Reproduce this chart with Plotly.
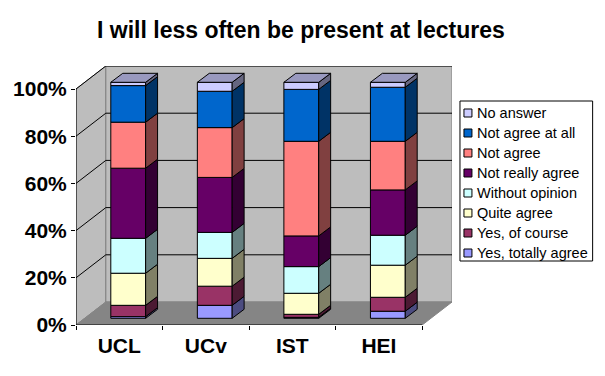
import plotly.graph_objects as go

categories = ["UCL", "UCv", "IST", "HEI"]
yes_totally = [0.7, 5.5, 0.4, 3.0]
yes_course = [4.8, 8.1, 1.3, 5.9]
quite_agree = [13.6, 11.8, 8.9, 13.6]
without_opinion = [14.8, 11.0, 11.3, 12.7]
not_really = [29.7, 23.3, 13.0, 19.2]
not_agree = [19.5, 21.1, 40.1, 20.6]
not_at_all = [15.5, 15.4, 22.0, 22.9]
no_answer = [1.4, 3.8, 3.0, 2.1]
y_ticks = [0, 20, 40, 60, 80, 100]

series = [
    ("Yes, totally agree", yes_totally, (0x99, 0x99, 0xFF)),
    ("Yes, of course", yes_course, (0x99, 0x33, 0x66)),
    ("Quite agree", quite_agree, (0xFF, 0xFF, 0xCC)),
    ("Without opinion", without_opinion, (0xCC, 0xFF, 0xFF)),
    ("Not really agree", not_really, (0x66, 0x00, 0x66)),
    ("Not agree", not_agree, (0xFF, 0x80, 0x80)),
    ("Not agree at all", not_at_all, (0x00, 0x66, 0xCC)),
    ("No answer", no_answer, (0xCC, 0xCC, 0xFF)),
]

FONT = "Liberation Sans"
PX_X, PX_Y = 87.0, 2.36
WALL_DX, WALL_DY = 30 / PX_X, 23 / PX_Y
BAR_W = 35 / PX_X
BAR_DX, BAR_DY = 12 / PX_X, 9 / PX_Y
BAR_SHIFT, BAR_LIFT = 9 / PX_X, 2.84
WALL, FLOOR, EDGE = "#bdbdbd", "#858585", "#808080"

# page body has an 8px margin, so the figure's own origin is at (8, 8)
PAGE = 8
PLOT_L, PLOT_T, PLOT_W, PLOT_H = 75.5 - PAGE, 66 - PAGE, 377, 259
FIG_W, FIG_H = 589, 360


def rgb(c, k=1.0):
    return "rgb(%d,%d,%d)" % tuple(round(v * k) for v in c)


def pxx(px):
    return (px - PAGE - PLOT_L) / PLOT_W


def pxy(py):
    return 1 - (py - PAGE - PLOT_T) / PLOT_H


xl, xr = -0.5, len(categories) - 0.5
fig = go.Figure()


def poly(points):
    return "M " + " L ".join(f"{x:.4f},{y:.3f}" for x, y in points) + " Z"


shapes = [
    dict(type="path", layer="below", path=poly([(xl, 0), (xl, 100), (xl + WALL_DX, 100 + WALL_DY), (xl + WALL_DX, WALL_DY)]),
         fillcolor=WALL, line=dict(color=EDGE, width=1)),
    dict(type="path", layer="below", path=poly([(xl + WALL_DX, WALL_DY), (xl + WALL_DX, 100 + WALL_DY), (xr + WALL_DX, 100 + WALL_DY), (xr + WALL_DX, WALL_DY)]),
         fillcolor=WALL, line=dict(color=EDGE, width=1)),
    dict(type="path", layer="below", path=poly([(xl, 0), (xl + WALL_DX, WALL_DY), (xr + WALL_DX, WALL_DY), (xr, 0)]),
         fillcolor=FLOOR, line=dict(color=FLOOR, width=1)),
]
for t in y_ticks[1:]:
    shapes.append(dict(type="line", layer="below", x0=xl, y0=t, x1=xl + WALL_DX, y1=t + WALL_DY, line=dict(color="black", width=1)))
    shapes.append(dict(type="line", layer="below", x0=xl + WALL_DX, y0=t + WALL_DY, x1=xr + WALL_DX, y1=t + WALL_DY, line=dict(color="black", width=1)))
shapes.append(dict(type="line", x0=xl, y0=0, x1=xl, y1=100, line=dict(color="black", width=1)))
shapes.append(dict(type="line", x0=xl, y0=0, x1=xr, y1=0, line=dict(color="black", width=1)))

cum = [BAR_LIFT] * len(categories)
centers = [i + BAR_SHIFT for i in range(len(categories))]
side_traces = []
for idx, (name, vals, col) in enumerate(series):
    fig.add_trace(go.Bar(
        x=centers, y=vals, base=cum, width=BAR_W, name=name,
        marker=dict(color=rgb(col), line=dict(color="black", width=1)),
        hoverinfo="skip", showlegend=False,
    ))
    sx, sy = [], []
    for i, v in enumerate(vals):
        r = centers[i] + BAR_W / 2
        b = cum[i]
        sx += [r, r + BAR_DX, r + BAR_DX, r, r, None]
        sy += [b, b + BAR_DY, b + v + BAR_DY, b + v, b, None]
    side_traces.append(go.Scatter(x=sx, y=sy, mode="lines", fill="toself", fillcolor=rgb(col, 0.5),
                                  line=dict(color="black", width=1), showlegend=False, hoverinfo="skip"))
    cum = [c + v for c, v in zip(cum, vals)]
    if idx == len(series) - 1:
        tx, ty = [], []
        for i in range(len(categories)):
            l, r = centers[i] - BAR_W / 2, centers[i] + BAR_W / 2
            t = cum[i]
            tx += [l, l + BAR_DX, r + BAR_DX, r, l, None]
            ty += [t, t + BAR_DY, t + BAR_DY, t, t, None]
        side_traces.append(go.Scatter(x=tx, y=ty, mode="lines", fill="toself", fillcolor=rgb(col, 0.75),
                                      line=dict(color="black", width=1), showlegend=False, hoverinfo="skip"))
for tr in side_traces:
    fig.add_trace(tr)

# legend drawn as frame, swatches and real text, to keep the tight swatch-to-text gap
annotations = []
shapes.append(dict(type="rect", xref="paper", yref="paper", x0=pxx(460.5), x1=pxx(593.5), y0=pxy(261), y1=pxy(101),
                   fillcolor="white", line=dict(color="black", width=1)))
for row, (name, vals, col) in enumerate(reversed(series)):
    yc = 113 + 20 * row
    shapes.append(dict(type="rect", xref="paper", yref="paper", x0=pxx(464.5), x1=pxx(472.5), y0=pxy(yc + 4), y1=pxy(yc - 4),
                       fillcolor=rgb(col), line=dict(color="black", width=1)))
    annotations.append(dict(text=name, xref="paper", yref="paper", x=pxx(477), y=pxy(yc), xanchor="left", yanchor="middle",
                            showarrow=False, borderpad=0, font=dict(family=FONT, size=14.5, color="black")))

fig.update_layout(
    width=FIG_W, height=FIG_H,
    margin=dict(l=PLOT_L, r=FIG_W - PLOT_L - PLOT_W, t=PLOT_T, b=FIG_H - PLOT_T - PLOT_H, pad=0, autoexpand=False),
    paper_bgcolor="white", plot_bgcolor="white",
    barmode="overlay",
    font=dict(family=FONT, color="black"),
    title=dict(text="I will less often be present at lectures", x=pxx(301), xref="paper", xanchor="center",
               y=1 - (30 - PAGE) / FIG_H, yref="container", yanchor="middle",
               font=dict(family=FONT, size=23, weight=700, color="black")),
    shapes=shapes,
    annotations=annotations,
    showlegend=False,
    xaxis=dict(range=[xl, xr + WALL_DX], tickmode="array", tickvals=list(range(len(categories))), ticktext=categories,
               ticks="", ticklabelstandoff=6, showgrid=False, zeroline=False, showline=False,
               tickfont=dict(family=FONT, size=21, weight=700, color="black"),
               minor=dict(tickmode="array", tickvals=[xl + i for i in range(len(categories) + 1)], ticks="outside",
                          ticklen=4, tickwidth=1, tickcolor="black", showgrid=False)),
    yaxis=dict(range=[0, 100 + WALL_DY], tickmode="array", tickvals=y_ticks, ticktext=[f"{t}%" for t in y_ticks],
               ticks="outside", ticklen=4, tickwidth=1, tickcolor="black", showgrid=False, zeroline=False, showline=False,
               tickfont=dict(family=FONT, size=21, weight=700, color="black")),
)

fig.write_html("out.html")
